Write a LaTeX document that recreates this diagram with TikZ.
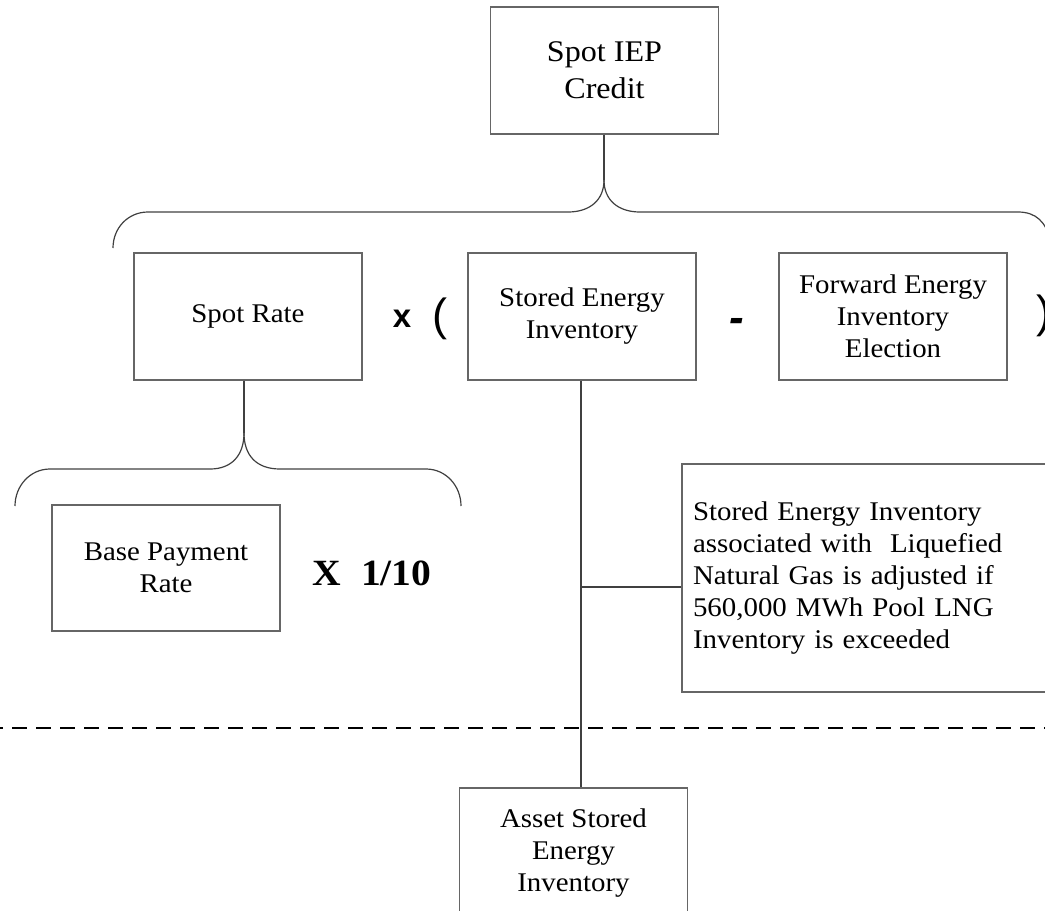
\documentclass[tikz,border=0pt]{standalone}
\usepackage{fontspec}
\setmainfont{Liberation Serif}[FakeStretch=1.07]
\newfontfamily\opsans{Liberation Sans}
\begin{document}
\begin{tikzpicture}[x=1pt,y=-1pt,
  box/.style={draw=black!60, line width=1.3pt, minimum width=228pt, minimum height=127pt,
    inner sep=0pt, align=center, font=\fontsize{27}{32}\selectfont},
  conn/.style={draw=black!75, line width=1.2pt},
  brace/.style={draw=black!75, line width=1.2pt},
  opbold/.style={inner sep=0pt, font=\opsans\bfseries\fontsize{33}{33}\selectfont},
  oppar/.style={inner sep=0pt, font=\opsans\fontsize{45}{45}\selectfont},
  factor/.style={inner sep=0pt, font=\bfseries\fontsize{37}{37}\selectfont},
  divider/.style={draw=black, line width=2pt, dash pattern=on 15pt off 9pt, dash phase=12pt}
]
\useasboundingbox (0,0) rectangle (1045,911);
\clip (0,0) rectangle (1045,911);

% boxes
\node[box, font=\fontsize{30}{37}\selectfont] (credit) at (604.5,70.5) {Spot IEP\\Credit};
\node[box] (spot) at (248,316.5) {Spot Rate};
\node[box] (stored) at (582,316.5) {Stored Energy\\Inventory};
\node[box] (forward) at (893,316.5) {Forward Energy\\Inventory\\Election};
\node[box, minimum height=126pt] (base) at (166,568) {Base Payment\\Rate};
\node[box, minimum width=398pt, minimum height=228pt, text width=376pt, align=left] (lng) at (881,578)
  {Stored Energy Inventory\\associated with\ \ Liquefied\\Natural Gas is adjusted if\\560,000 MWh Pool LNG\\Inventory is exceeded};
\node[box, minimum height=130pt] (asset) at (573.5,853) {Asset Stored\\Energy\\Inventory};

% operators
\node[opbold] (times) at (402,318.5) {x};
\node[oppar] (lpar) at (440,319) {(};
\node[opbold, font=\opsans\bfseries\itshape\fontsize{44}{44}\selectfont, anchor=base] (minus) at (737,332) {-};
\node[oppar] (rpar) at (1044,316) {)};
\node[factor] (tenth) at (372,573) {X\hspace{20pt}1/10};

% top brace
\coordinate (tip1) at (604,180);
\draw[conn] (credit.south -| tip1) -- (tip1);
\draw[brace] (113,248) .. controls (113,228) and (128,212) .. (148,212) -- (568,212)
  .. controls (590,212) and (604,200) .. (tip1);
\draw[brace] (tip1) .. controls (604,200) and (618,212) .. (640,212) -- (1018,212)
  .. controls (1036,212) and (1046,222) .. (1050,240);

% lower brace
\coordinate (tip2) at (244,433);
\draw[conn] (spot.south -| tip2) -- (tip2);
\draw[brace] (15,506) .. controls (15,486) and (30,469) .. (50,469) -- (210,469)
  .. controls (232,469) and (244,455) .. (tip2);
\draw[brace] (tip2) .. controls (244,455) and (256,469) .. (280,469) -- (426,469)
  .. controls (446,469) and (461,486) .. (461,506);

% stored energy trunk
\coordinate (junc) at (581,587);
\draw[conn] (stored.south -| junc) -- (asset.north -| junc);
\draw[conn] (junc) -- (junc -| lng.west);

% dashed divider
\coordinate (dl) at (0,728);
\coordinate (dr) at (1045,728);
\draw[divider] (dl) -- (dr);
\end{tikzpicture}
\end{document}
